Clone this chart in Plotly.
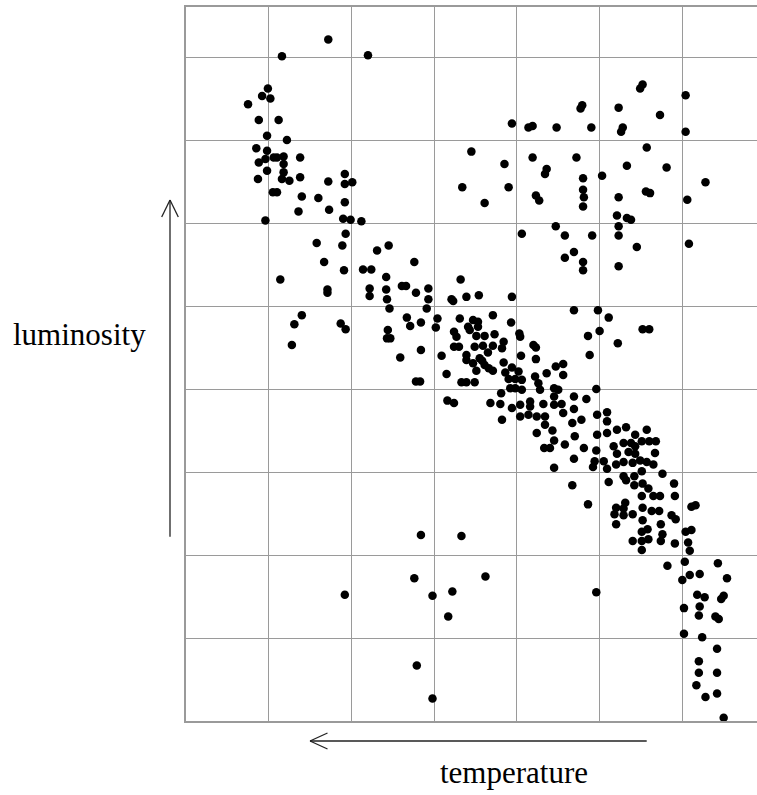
import plotly.graph_objects as go

# Hertzsprung-Russell style diagram; values in grid units (x: temperature axis, y: luminosity axis)
upper_branch = [(1.72,8.21),(1.16,8.01),(2.20,8.02),(0.99,7.62),(0.92,7.53),(1.02,7.50),(0.75,7.43),
    (0.88,7.24),(1.12,7.24),(0.98,7.05),(1.22,7.00),(0.85,6.90),(0.98,6.87),(1.06,6.79),(1.10,6.79),
    (1.18,6.80),(0.96,6.77),(0.88,6.73),(1.18,6.71),(1.38,6.79),(0.98,6.63),(1.18,6.61),(0.87,6.53),
    (1.16,6.53),(1.25,6.51),(1.38,6.55),(1.72,6.50),(1.92,6.59),(1.92,6.47),(2.01,6.49),(1.05,6.37),
    (1.10,6.37),(1.40,6.32),(1.60,6.30),(1.92,6.25),(1.36,6.14),(1.73,6.16),(0.96,6.03),(1.90,6.05),
    (1.99,6.04),(2.12,6.02),(1.93,5.87),(1.58,5.76),(1.89,5.73),(2.31,5.67),(2.45,5.73),(1.67,5.53),
    (1.91,5.43),(2.14,5.44),(2.24,5.44)]

main_upper = [(2.76,5.53),(1.14,5.32),(1.71,5.20),(1.71,5.16),(2.22,5.21),(2.22,5.12),(2.42,5.35),
    (2.42,5.20),(2.61,5.24),(2.66,5.24),(2.43,5.08),(2.78,5.16),(2.93,5.21),(2.93,5.08),(3.32,5.32),
    (3.21,5.08),(3.23,5.06),(3.39,5.11),(2.46,4.97),(2.91,4.97),(1.40,4.89),(1.31,4.78),(1.87,4.79),
    (1.93,4.72),(2.67,4.86),(2.71,4.76),(2.84,4.80),(3.04,4.85),(3.02,4.74),(3.31,4.85),(3.24,4.69),
    (3.27,4.63),(3.41,4.75),(2.44,4.71),(2.43,4.61),(2.47,4.61),(1.28,4.53),(2.84,4.47),(2.59,4.38),
    (3.24,4.51),(3.30,4.51),(3.09,4.40),(3.39,4.41),(3.39,4.35),(3.15,4.18),(2.78,4.09),(2.83,4.09),
    (3.33,4.08),(3.39,4.08),(3.49,4.08),(3.16,3.86),(3.24,3.83)]

main_middle = [(3.54,5.13),(3.94,5.11),(3.71,4.89),(3.93,4.80),(3.47,4.83),(3.53,4.81),(3.53,4.75),
    (3.43,4.71),(3.51,4.64),(3.61,4.64),(3.73,4.66),(4.03,4.67),(4.04,4.63),(3.84,4.57),(3.82,4.49),
    (3.49,4.51),(3.59,4.52),(3.71,4.52),(3.65,4.44),(4.20,4.53),(4.23,4.50),(3.55,4.37),(3.58,4.34),
    (4.05,4.40),(4.23,4.36),(3.84,4.32),(3.47,4.31),(3.61,4.29),(3.51,4.22),(3.66,4.25),(3.71,4.22),
    (3.94,4.26),(4.02,4.21),(4.47,4.27),(4.56,4.30),(3.86,4.20),(4.36,4.19),(4.56,4.17),(4.22,4.15),
    (4.26,4.07),(3.90,4.12),(3.98,4.12),(4.06,4.11),(3.92,4.01),(3.98,4.01),(4.06,3.99),(4.28,3.99),
    (4.45,4.01),(3.81,3.95),(4.96,4.00),(4.50,3.99),(3.68,3.83),(3.80,3.82),(3.94,3.77),(4.04,3.81),
    (4.16,3.85),(4.16,3.79),(4.32,3.82),(4.45,3.91),(4.45,3.81),(4.54,3.82),(4.69,3.91),(4.84,3.88),
    (4.69,3.76),(4.04,3.67),(4.14,3.69),(4.24,3.67),(4.34,3.67),(4.56,3.71),(4.97,3.69),(5.09,3.72),
    (3.82,3.63),(4.34,3.57),(4.67,3.59),(4.78,3.63),(5.09,3.61),(4.24,3.47),(4.43,3.50),(4.70,3.43),
    (4.97,3.45),(5.09,3.47),(5.21,3.51),(4.45,3.38),(4.58,3.33),(4.33,3.29),(4.40,3.29),(4.81,3.29),
    (4.96,3.26),(5.17,3.31),(5.21,3.22),(4.69,3.16),(4.94,3.13),(5.05,3.13),(4.92,3.06),(5.09,3.04),
    (5.20,3.09),(4.45,3.05)]

main_lower = [(5.32,3.54),(5.43,3.45),(5.57,3.51),(5.51,3.37),(5.60,3.37),(5.68,3.37),(5.29,3.35),
    (5.38,3.35),(5.43,3.31),(5.35,3.24),(5.43,3.22),(5.67,3.23),(5.29,3.12),(5.40,3.11),(5.49,3.14),
    (5.57,3.12),(5.65,3.09),(5.51,3.01),(5.76,2.98),(5.29,2.95),(5.32,2.90),(5.42,2.95),(5.11,2.88),
    (5.42,2.84),(5.52,2.86),(5.59,2.80),(5.90,2.86),(5.51,2.71),(5.65,2.71),(5.73,2.71),(5.91,2.71),
    (5.31,2.63),(5.20,2.57),(5.29,2.56),(5.18,2.49),(5.29,2.48),(5.40,2.49),(5.52,2.57),(5.63,2.53),
    (5.72,2.53),(4.86,2.61),(6.11,2.58),(6.16,2.60),(5.87,2.48),(5.92,2.43),(5.20,2.37),(5.52,2.42),
    (5.74,2.37),(5.58,2.31),(5.51,2.28),(5.76,2.25),(5.74,2.17),(5.40,2.17),(5.51,2.17),(5.59,2.19),
    (5.91,2.14),(6.04,2.28),(6.11,2.30),(6.07,2.15),(5.51,2.06),(6.09,2.05),(6.03,1.92),(5.82,1.87),
    (4.67,2.84)]

main_tail = [(6.43,1.90),(6.00,1.70),(6.09,1.76),(6.21,1.77),(6.54,1.72),(6.18,1.52),(6.27,1.49),
    (6.50,1.51),(6.47,1.47),(6.02,1.36),(6.21,1.38),(6.20,1.27),(6.40,1.26),(6.44,1.23),(6.02,1.05),
    (6.24,1.01),(6.42,0.87),(6.20,0.72),(6.20,0.58),(6.42,0.58),(6.17,0.43),(6.28,0.29),(6.42,0.33),
    (6.50,0.04)]

dwarfs = [(2.84,2.24),(3.33,2.23),(2.76,1.72),(1.92,1.52),(2.98,1.51),(3.22,1.56),(3.17,1.26),
    (2.79,0.67),(2.98,0.27),(3.62,1.74),(4.96,1.55)]

giants = [(5.52,7.67),(5.49,7.62),(6.04,7.54),(4.79,7.42),(4.77,7.38),(5.23,7.39),(5.73,7.30),
    (3.94,7.20),(4.14,7.15),(4.19,7.17),(4.48,7.15),(4.90,7.15),(5.28,7.15),(5.26,7.10),(6.04,7.10),
    (3.45,6.86),(5.57,6.91),(3.85,6.71),(4.19,6.79),(4.72,6.79),(4.36,6.65),(4.34,6.59),(4.80,6.54),
    (5.33,6.69),(5.81,6.67),(5.03,6.57),(6.28,6.49),(3.34,6.43),(3.90,6.43),(3.61,6.24),(4.23,6.33),
    (4.27,6.27),(4.80,6.40),(4.81,6.31),(4.80,6.20),(5.23,6.31),(5.56,6.38),(5.61,6.36),(6.06,6.28),
    (5.21,6.09),(5.33,6.06),(5.38,6.04),(5.23,5.96),(4.06,5.87),(4.47,5.96),(4.58,5.85),(4.91,5.85),
    (5.23,5.85),(5.45,5.71),(6.08,5.75),(4.69,5.65),(4.58,5.58),(4.80,5.53),(4.80,5.43),(5.23,5.48),
    (4.69,4.95),(4.98,4.95),(5.11,4.86),(5.52,4.72),(5.60,4.72),(4.86,4.64),(5.00,4.70),(5.22,4.55),
    (4.88,4.41)]

x_label = "temperature"
y_label = "luminosity"

W, H = 757, 795
L, R, T, B = 186, 757, 7, 721  # plot area in pixels
GRID = "#9a9a9a"

fig = go.Figure()
for group in [upper_branch, main_upper, main_middle, main_lower, main_tail, dwarfs, giants]:
    fig.add_trace(go.Scatter(
        x=[p[0] for p in group], y=[p[1] for p in group], mode="markers",
        marker=dict(size=8.5, color="black", line=dict(width=0)),
        showlegend=False, hoverinfo="skip", cliponaxis=False))

def px(x):
    return (x - L) / (R - L)

def py(y):
    return (B - y) / (B - T)

def seg(x0, y0, x1, y1):
    return dict(type="line", xref="paper", yref="paper",
                x0=px(x0), y0=py(y0), x1=px(x1), y1=py(y1),
                line=dict(color="#222222", width=1.3))

shapes = [
    seg(646.7, 741, 310, 741), seg(310, 741, 327.5, 733), seg(310, 741, 327.5, 749),
    seg(170, 536.7, 170, 200), seg(170, 200, 161.7, 217), seg(170, 200, 178.3, 217),
]

fig.update_layout(
    width=W, height=H, autosize=False,
    margin=dict(l=L, r=W - R, t=T, b=H - B, pad=0),
    paper_bgcolor="white", plot_bgcolor="white",
    shapes=shapes,
    annotations=[
        dict(text=y_label, xref="paper", yref="paper", x=px(79), y=py(334),
             xanchor="center", yanchor="middle", showarrow=False,
             font=dict(family="Liberation Serif", size=31, color="black")),
        dict(text=x_label, xref="paper", yref="paper", x=px(514), y=py(772),
             xanchor="center", yanchor="middle", showarrow=False,
             font=dict(family="Liberation Serif", size=31, color="black")),
    ],
)
fig.update_xaxes(range=[0, (R - L) / 82.72], tick0=0, dtick=1, showticklabels=False, ticks="",
                 showgrid=True, gridcolor=GRID, gridwidth=1.3, zeroline=False,
                 showline=True, linecolor=GRID, linewidth=1.5, mirror=True, fixedrange=True)
fig.update_yaxes(range=[0, (B - T) / 83.0], tick0=0, dtick=1, showticklabels=False, ticks="",
                 showgrid=True, gridcolor=GRID, gridwidth=1.3, zeroline=False,
                 showline=True, linecolor=GRID, linewidth=1.5, mirror=False, fixedrange=True)

fig.write_html("out.html", config={"displayModeBar": False})

# remove the default page margin so the figure sits at the window's top-left corner
with open("out.html", "r", encoding="utf-8") as f:
    html = f.read()
html = html.replace("<head>", "<head><style>html,body{margin:0;padding:0;overflow:hidden;}</style>", 1)
with open("out.html", "w", encoding="utf-8") as f:
    f.write(html)
